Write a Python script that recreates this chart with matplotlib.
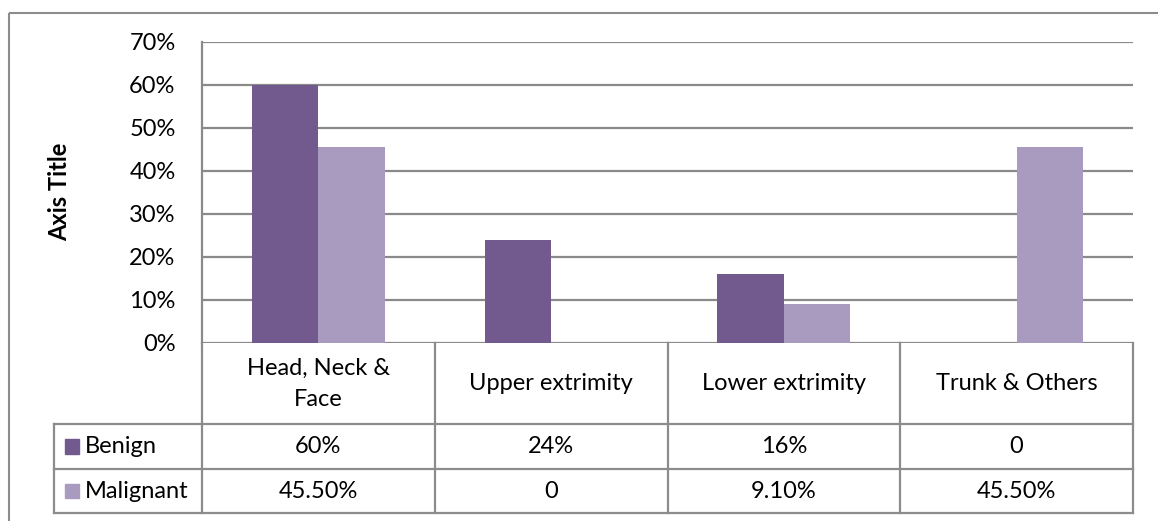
import matplotlib.pyplot as plt
from matplotlib.lines import Line2D
from matplotlib.patches import Rectangle
import matplotlib.transforms as mtransforms

plt.rcParams['font.family'] = ['Lato', 'DejaVu Sans']

# data
categories = ["Head, Neck &\nFace", "Upper extrimity", "Lower extrimity", "Trunk & Others"]
benign = [0.60, 0.24, 0.16, 0.0]
malignant = [0.455, 0.0, 0.091, 0.455]
benign_labels = ["60%", "24%", "16%", "0"]
malignant_labels = ["45.50%", "0", "9.10%", "45.50%"]
series_names = ["Benign", "Malignant"]
yticks = [0, 0.1, 0.2, 0.3, 0.4, 0.5, 0.6, 0.7]

c_benign = "#725a8f"
c_malig = "#a99bc0"
grid_c = "#8a8a8a"
fs = 17

W, H = 1158, 521
fig = plt.figure(figsize=(W / 100, H / 100), dpi=100)

# overlay in pixel coordinates for the frame and the data table
ov = fig.add_axes([0, 0, 1, 1])
ov.set_xlim(0, W)
ov.set_ylim(H, 0)
ov.axis("off")

# outer chart border (runs off the right and bottom edge)
ov.add_patch(Rectangle((8.5, 12.5), 1200, 600, fill=False, ec="#8c8c8c", lw=1.5))

# plot area
left, right, top, bottom = 202, 1133, 41.7, 342.7
ax = fig.add_axes([left / W, 1 - bottom / H, (right - left) / W, (bottom - top) / H])
x = list(range(len(categories)))
bw = 0.286
ax.bar([i - bw / 2 for i in x], benign, width=bw, color=c_benign, zorder=3)
ax.bar([i + bw / 2 for i in x], malignant, width=bw, color=c_malig, zorder=3)
ax.set_xlim(-0.5, len(categories) - 0.5)
ax.set_ylim(0, 0.7)
ax.set_yticks(yticks)
ax.set_yticklabels([f"{int(round(t * 100))}%" for t in yticks], fontsize=fs)
ax.set_xticks([])
ax.tick_params(axis="y", length=0, pad=19)
ax.yaxis.grid(True, color=grid_c, lw=1.6, zorder=0)
for s in ["top", "right", "bottom"]:
    ax.spines[s].set_visible(False)
ax.spines["left"].set_color(grid_c)
ax.spines["left"].set_linewidth(1.6)
ax.set_facecolor("none")

fig.text(60 / W, 1 - 192 / H, "Axis Title", rotation=90, fontsize=fs,
         fontweight="bold", ha="center", va="center")

# data table below the axis
tr = mtransforms.blended_transform_factory(ax.transData, ov.transData)
row1, row2, row3 = 424.3, 469, 513
tab_left = 54
lc = "#8c8c8c"
lw = 1.6
for yy in [row1, row2, row3]:
    ov.add_line(Line2D([tab_left, right], [yy, yy], color=lc, lw=lw))
ov.add_line(Line2D([tab_left, tab_left], [row1, row3], color=lc, lw=lw))
for i in range(len(categories) + 1):
    ov.add_line(Line2D([i - 0.5, i - 0.5], [bottom, row3], color=lc, lw=lw, transform=tr))

for i, cat in enumerate(categories):
    ov.text(i, (bottom + row1) / 2, cat, ha="center", va="center", fontsize=fs,
            linespacing=1.6, transform=tr)
    ov.text(i, (row1 + row2) / 2, benign_labels[i], ha="center", va="center",
            fontsize=fs, transform=tr)
    ov.text(i, (row2 + row3) / 2, malignant_labels[i], ha="center", va="center",
            fontsize=fs, transform=tr)

for name, col, (ya, yb) in zip(series_names, [c_benign, c_malig], [(row1, row2), (row2, row3)]):
    yc = (ya + yb) / 2
    ov.add_patch(Rectangle((64.5, yc - 7.5), 14.5, 14.5, color=col))
    ov.text(85, yc, name, ha="left", va="center", fontsize=fs)

fig.savefig("out.png", dpi=100)
